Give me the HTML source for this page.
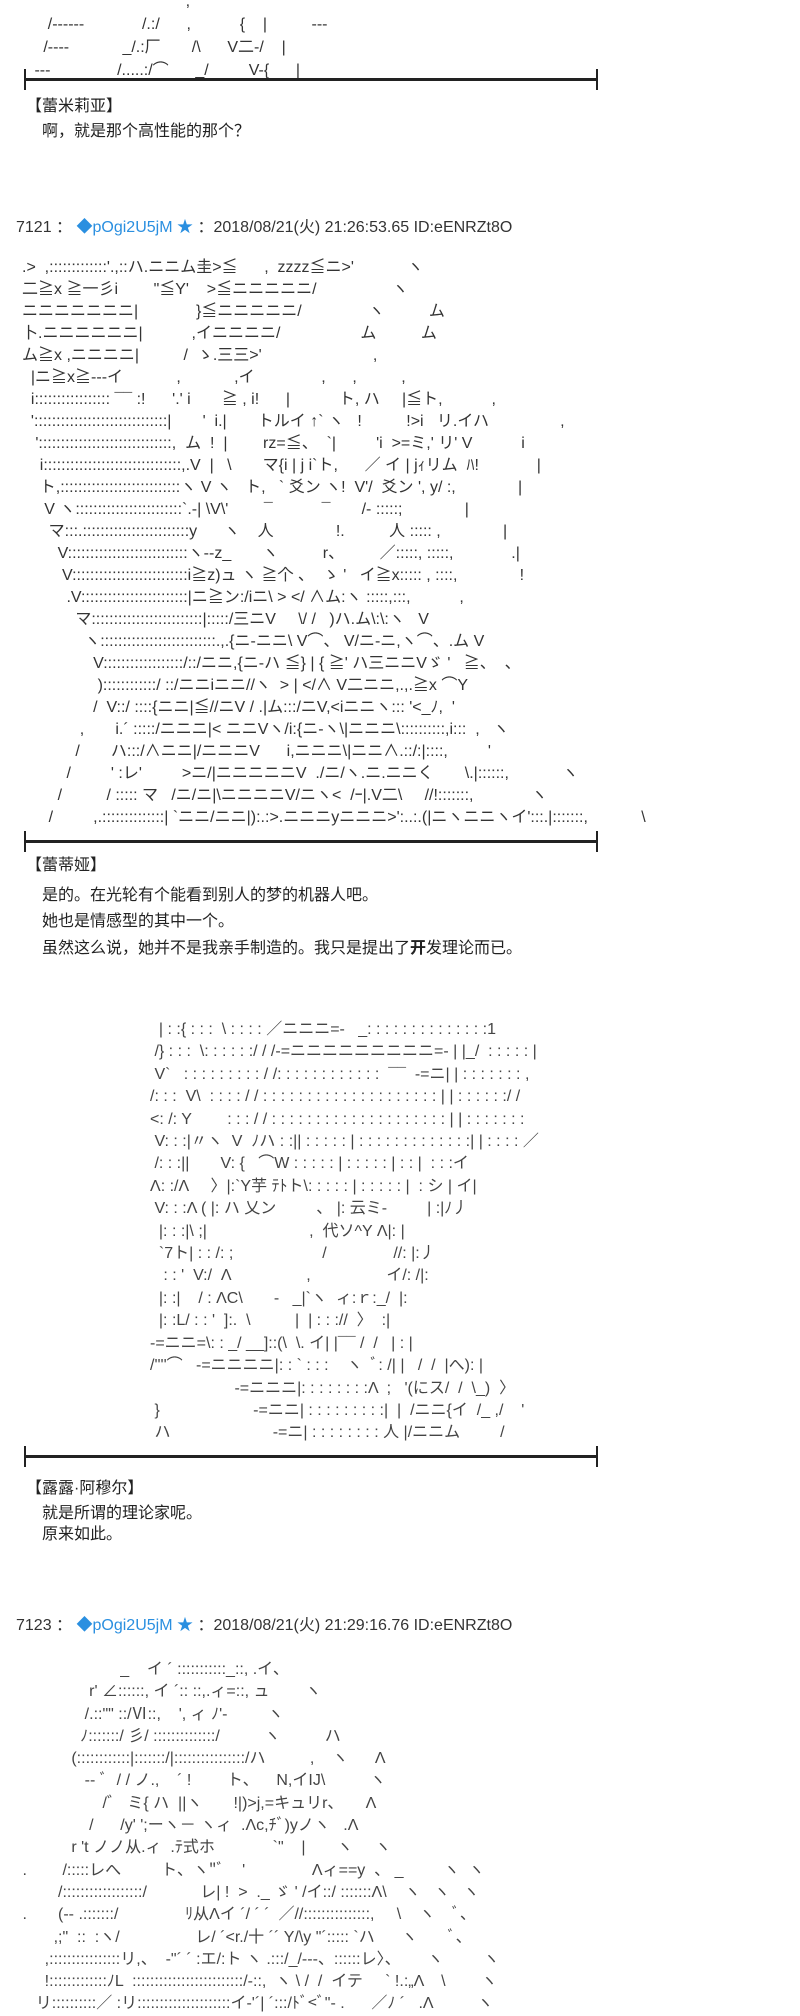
<!DOCTYPE html>
<html><head><meta charset="utf-8"><style>
body{margin:0;background:#fff;width:800px;height:2000px;position:relative;overflow:hidden;font-family:"Liberation Sans","Noto Sans CJK SC",sans-serif;color:#222}
.a{position:absolute;white-space:pre;font-family:"Liberation Sans","Noto Sans CJK JP",sans-serif;font-size:16px;line-height:22px;color:#333;margin:0}
.hr{position:absolute;left:25px;width:572px;height:3px;background:#222}
.hr:before,.hr:after{content:"";position:absolute;top:-9px;width:2px;height:21px;background:#222}
.hr:before{left:-1px}.hr:after{right:-1px}
.t{position:absolute;font-size:16px;line-height:20px;white-space:nowrap;font-family:"Liberation Sans","Noto Sans CJK SC",sans-serif}
.h{position:absolute;left:16px;font-size:16px;white-space:nowrap;color:#333}
.b{color:#2a8fe0}
</style></head><body>

<pre class="a" style="left:30px;top:-10px;line-height:23px">                                   ,    ¯                                    
    /‐‐‐‐‐-             /.:/      ,           {    |          ‐‐‐
   /‐‐‐-            _/.:厂       /\      V二-/    |
 ‐‐-               /.....:/⌒      _/         V-{      |</pre>
<div class="hr" style="top:78px"></div>
<div class="t" style="left:26px;top:97px">【蕾米莉亚】</div>
<div class="t" style="left:42px;top:122px">啊，就是那个高性能的那个？</div>

<div class="h" style="top:213px">7121 ： <span class="b">◆pOgi2U5jM</span> <span class="b">★</span> ：2018/08/21(火) 21:26:53.65 ID:eENRZt8O</div>

<pre class="a" style="left:22px;top:257px">.>  ,:::::::::::::'.,::ハ.ニニム圭>≦      ,  zzzz≦ニ>'            ヽ
二≧x ≧一彡i        "≦Y'    >≦ニニニニニ/                 ヽ
ニニニニニニニ|             }≦ニニニニニ/               ヽ          ム
卜.ニニニニニニ|           ,イニニニニ/                  ム          ム
ム≧x ,ニニニニ|          /  ゝ.三三>'                         ,
  |ニ≧x≧‐‐‐イ            ,            ,イ               ,      ,          ,
  i::::::::::::::::: ¯¯ :!      '.' i       ≧ , i!      |           ト, ハ     |≦ト,           ,
  '::::::::::::::::::::::::::::::|       '  i.|       トルイ ↑` ヽ   !          !>i   リ.イハ                ,
   '::::::::::::::::::::::::::::::,  ム  !  |        rz=≦、  `|         'i  >=ミ,' リ' V           i
    i:::::::::::::::::::::::::::::::,.V  |   \       マ{i | j i`ト,      ／ イ | jｨリム  ﾊ!             |
    ト,:::::::::::::::::::::::::::ヽ V ヽ   ト,   ` 爻ン ヽ!  V'/  爻ン ', y/ :,              |
     V ヽ::::::::::::::::::::::::`.-| \V\'        ¯           ¯       /‐ :::::;              |
      マ:::.::::::::::::::::::::::::y      ヽ    人              !.          人 ::::: ,              |
        V:::::::::::::::::::::::::::ヽ‐‐z_       ヽ          r、        ／:::::, :::::,             .|
         V::::::::::::::::::::::::::i≧z)ュ ヽ ≧个 、  ゝ '   イ≧x::::: , ::::,              !
          .V::::::::::::::::::::::::|ニ≧ン:/iニ\ &gt; &lt;/ ∧ム:ヽ :::::,:::,           ,
            マ:::::::::::::::::::::::::|:::::/三ニV     \/ /   )ハ.ム\:\:ヽ   V
              ヽ::::::::::::::::::::::::::.,.{ニ-ニニ\ V⌒、 V/ニ-ニ,ヽ⌒、.ム V
                V::::::::::::::::::/::/ニニ,{ニ-ハ ≦} | { ≧' ハ三ニニVゞ '   ≧、  、
                 )::::::::::::/ ::/ニニiニニ//ヽ  &gt; | &lt;/∧ V二ニニ,.,.≧x ⌒Y
                /  V::/ ::::{ニニ|≦//ニV / .|ム:::/ニV,&lt;iニニヽ::: '&lt;_ﾉ,  '
             ,       i.´ :::::/ニニニ|&lt; ニニVヽ/i:{ニ-ヽ\|ニニニ\::::::::::,i:::  ,   ヽ
            /       ハ:::/∧ニニ|/ニニニV      i,ニニニ\|ニニ∧.::/:|::::,         '
          /         ' :レ'         &gt;ニ/|ニニニニニV  ./ニ/ヽ.ニ.ニニく       \.|::::::,            ヽ
        /          / ::::: マ   /ニ/ニ|\ニニニニV/ニヽ&lt;  /ｰ|.V二\     //!:::::::,             ヽ
      /         ,.::::::::::::::| `ニニ/ニニ|):.:&gt;.ニニニyニニニ&gt;':..:.(|ニヽニニヽイ':::.|:::::::,            \</pre>
<div class="hr" style="top:840px"></div>
<div class="t" style="left:26px;top:856px">【蕾蒂娅】</div>
<div class="t" style="left:42px;top:886px">是的。在光轮有个能看到别人的梦的机器人吧。</div>
<div class="t" style="left:42px;top:912px">她也是情感型的其中一个。</div>
<div class="t" style="left:42px;top:939px">虽然这么说，她并不是我亲手制造的。我只是提出了<b>开</b>发理论而已。</div>

<pre class="a" style="left:150px;top:1019px;line-height:22.4px;color:#444">  | : :{ : : :  \ : : : : ／ニニニ=-   _: : : : : : : : : : : : : :1
 /} : : :  \: : : : : :/ / /‐=ニニニニニニニニニ=- | |_/  : : : : : |
 V`   : : : : : : : : : / /: : : : : : : : : : : :  ¯¯  -=ニ| | : : : : : : : ,
/: : :  V\  : : : : / / : : : : : : : : : : : : : : : : : : : : | | : : : : : :/ /
&lt;: /: Y        : : : / / : : : : : : : : : : : : : : : : : : : : | | : : : : : : :
 V: : :|〃ヽ  V  ﾉハ : :|| : : : : : | : : : : : : : : : : : : :| | : : : : ／
 /: : :||       V: {   ⌒W : : : : : | : : : : : | : : |  : : :イ
Λ: :/Λ     〉|:`Y芋 ﾃﾄト\: : : : : | : : : : : |  : シ | イ|
 V: : :Λ ( |: ハ 乂ン         、 |: 云ミ-         | :|ﾉ丿
  |: : :|\ ;|                       ,  代ソ^Y Λ|: |
  `7ト| : : /: ;                    /               //: |:丿
   : : '  V:/  Λ                 ,                 イ/: /|:
  |: :|    / : ΛC\       ‐   _|`ヽ  ィ:ｒ:_/  |:
  |: :L/ : : '  ]:.  \          |  | : : ://  〉  :|
-=ニニ=\: : _/ __]::(\  \. イ| |¯¯ /  /   | : |
/''''⌒   -=ニニニニ|: : ` : : :    ヽ  ﾞ: /| |   /  /  |へ): |
                   -=ニニニ|: : : : : : : :Λ  ;   '(にス/  /  \_)  〉
 }                     -=ニニ| : : : : : : : : :|  |  /ニニ{イ  /_ ,/    '
 ハ                       -=ニ| : : : : : : : : 人 |/ニニム         /</pre>
<div class="hr" style="top:1455px"></div>
<div class="t" style="left:26px;top:1479px">【露露·阿穆尔】</div>
<div class="t" style="left:42px;top:1504px">就是所谓的理论家呢。</div>
<div class="t" style="left:42px;top:1525px">原来如此。</div>

<div class="h" style="top:1611px">7123 ： <span class="b">◆pOgi2U5jM</span> <span class="b">★</span> ：2018/08/21(火) 21:29:16.76 ID:eENRZt8O</div>

<pre class="a" style="left:18px;top:1659px;line-height:22.3px;color:#444">                       _    イ ´ :::::::::::_::, .イ、
                r' ∠::::::, イ ´:: ::,.ィ=::, ュ        ヽ
               /.::"" ::/Ⅵ::,    ', ィ ﾉ'‐         ヽ
              ﾉ:::::::/ 彡/ ::::::::::::::/          ヽ          ハ
            (::::::::::::|:::::::/|::::::::::::::::/ハ          ,    ヽ      Λ
               ‐‐ ﾞ  / / ノ.,    ´ !        ト、    N,イIJ\          ヽ
                   /゛ ミ{ ハ  ||ヽ       !|)&gt;j,=キュリr、     Λ
                /      /y' ';ーヽ－ ヽィ  .Λc,ﾁﾞ)yノヽ   .Λ
            r 't ノノ从.ィ  .ﾃ式ホ             `"    |       ヽ     ヽ
 .        /:::::レへ         ト、ヽ"ﾞ    '               Λィ==y  、 _         ヽ  ヽ
         /::::::::::::::::::/            レ| !  &gt;  ._ ゞ ' /イ::/ :::::::Λ\    ヽ   ヽ   ヽ
 .       (‐‐ .:::::::/               ﾘ从Λイ ´/ ´ ´  ／//:::::::::::::::,     \    ヽ    ﾞ、
        ,;"  ::  :ヽ/                 レ/ ´&lt;r./十 ´´ Y/\y "´::::: `ハ      ヽ       ﾞ、
      ,::::::::::::::::リ,、  ‐"´ ´ :エ/:ト ヽ .:::/_/‐‐‐、::::::レ〉、      ヽ         ヽ
      !:::::::::::::ﾉL  :::::::::::::::::::::::::/‐::,  ヽ \ /  /  イテ     ` !.:„Λ    \        ヽ
    リ::::::::::／ :リ:::::::::::::::::::::イ‐'´| ´:::/ﾄﾞ&lt;ﾞ"‐ .      ／ﾉ ´   .Λ          ヽ</pre>
</body></html>
